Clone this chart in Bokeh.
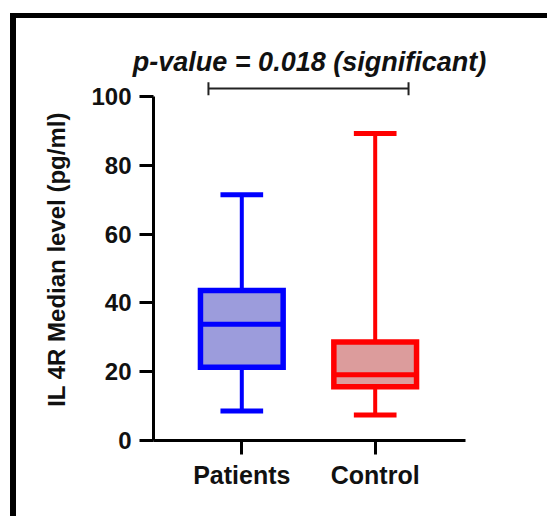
from bokeh.plotting import figure
from bokeh.models import Range1d, FixedTicker
from bokeh.embed import file_html
from bokeh.resources import INLINE

# ---- data ----
categories = ["Patients", "Control"]
positions = [1, 2]
whisker_low = [8.6, 7.4]
q1 = [21.3, 15.6]
median = [33.8, 19.1]
q3 = [43.6, 28.6]
whisker_high = [71.4, 89.2]
y_ticks = [0, 20, 40, 60, 80, 100]
bracket_x = [0.75, 2.25]
bracket_y = [102.3, 102.3]
bracket_end_low = [100.3, 100.3]
bracket_end_high = [104.1, 104.1]
p_text = "p-value = 0.018 (significant)"
y_label = "IL 4R Median level (pg/ml)"

# ---- styles ----
line_colors = ["#0000ff", "#ff0000"]
fill_colors = ["#9c9cdc", "#dc9c9c"]
box_w = 0.62
cap_w = 0.32
FONT = "Liberation Sans"

p = figure(width=547, height=516, output_backend="svg", toolbar_location=None,
           x_range=Range1d(0.338, 2.677), y_range=Range1d(0, 105.2),
           min_border_left=153, min_border_right=82, min_border_top=78,
           min_border_bottom=76, title=p_text)
p.outline_line_color = None
p.xgrid.visible = False
p.ygrid.visible = False
p.background_fill_color = "white"
p.border_fill_color = None
# black page frame on top and left, as in the source picture
p.styles = {
    "background": (
        "linear-gradient(#000, #000) 10px 13px / 6px 503px no-repeat, "
        "linear-gradient(#000, #000) 10px 13px / 537px 5px no-repeat, white"
    )
}

p.title.align = "center"
p.title.text_font = FONT
p.title.text_font_size = "27px"
p.title.text_font_style = "bold italic"
p.title.text_color = "#111111"
p.title.standoff = 4

# whiskers
p.segment(x0=positions, y0=q3, x1=positions, y1=whisker_high,
          line_color=line_colors, line_width=4)
p.segment(x0=positions, y0=whisker_low, x1=positions, y1=q1,
          line_color=line_colors, line_width=4)
# caps
p.segment(x0=[x - cap_w / 2 for x in positions], y0=whisker_high,
          x1=[x + cap_w / 2 for x in positions], y1=whisker_high,
          line_color=line_colors, line_width=5)
p.segment(x0=[x - cap_w / 2 for x in positions], y0=whisker_low,
          x1=[x + cap_w / 2 for x in positions], y1=whisker_low,
          line_color=line_colors, line_width=5)
# boxes
p.vbar(x=positions, width=box_w, bottom=q1, top=q3, fill_color=fill_colors,
       line_color=line_colors, line_width=5.5, line_join="miter")
# medians
p.segment(x0=[x - box_w / 2 for x in positions], y0=median,
          x1=[x + box_w / 2 for x in positions], y1=median,
          line_color=line_colors, line_width=5)

# significance bracket
p.segment(x0=[bracket_x[0]], y0=[bracket_y[0]], x1=[bracket_x[1]], y1=[bracket_y[1]],
          line_color="#222222", line_width=2)
p.segment(x0=bracket_x, y0=bracket_end_low, x1=bracket_x, y1=bracket_end_high,
          line_color="#222222", line_width=2)

# axes
for ax in (p.xaxis[0], p.yaxis[0]):
    ax.axis_line_width = 3
    ax.axis_line_color = "black"
    ax.major_tick_line_width = 3
    ax.major_tick_line_color = "black"
    ax.major_tick_out = 14
    ax.major_tick_in = 0
    ax.minor_tick_line_color = None
    ax.major_label_text_font = FONT
    ax.major_label_text_font_style = "bold"
    ax.major_label_text_color = "#111111"

p.xaxis.major_label_text_font_size = "25px"
p.xaxis.major_label_standoff = 6
p.yaxis.major_label_text_font_size = "24px"
p.yaxis.major_label_standoff = 8

p.xaxis.ticker = FixedTicker(ticks=positions)
p.xaxis.major_label_overrides = {x: c for x, c in zip(positions, categories)}
p.yaxis.ticker = FixedTicker(ticks=y_ticks)
p.yaxis.bounds = (0, 100)
p.yaxis.axis_label = y_label
p.yaxis.axis_label_text_font = FONT
p.yaxis.axis_label_text_font_size = "24px"
p.yaxis.axis_label_text_font_style = "bold"
p.yaxis.axis_label_text_color = "#111111"
p.yaxis.axis_label_standoff = 18

open("out.html", "w").write(file_html(p, INLINE))
